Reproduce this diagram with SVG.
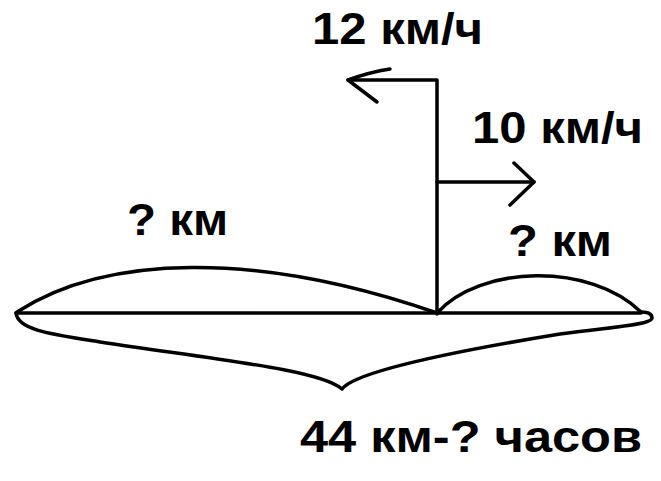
<svg xmlns="http://www.w3.org/2000/svg" width="661" height="481" viewBox="0 0 661 481">
  <style>
    .ln { fill: none; stroke: #000; stroke-width: 3.5; stroke-linecap: round; stroke-linejoin: round; }
    .lbl { font-family: "Liberation Sans", Arial, sans-serif; font-weight: bold; font-size: 44px; fill: #000; }
  </style>
  <rect width="661" height="481" fill="#fff"/>
  <g id="road">
    <line class="ln" x1="16" y1="313" x2="641" y2="313"/>
  </g>
  <g id="arc-left">
    <path class="ln" d="M17,312 C105,255 255,250 437,313"/>
  </g>
  <g id="arc-right">
    <path class="ln" d="M437,313 C480,265 590,262 641,312"/>
  </g>
  <g id="brace">
    <path class="ln" d="M16,313 C18,330 50,334 100,342 C220,360 320,370 342,389 C355,372 450,352 560,334 C610,327 652,325 652,318 C652,313 646,312 641,312"/>
  </g>
  <g id="connectors">
    <path class="ln" d="M437,314 L437,80 L348,80"/>
    <path class="ln" d="M390,69 Q370,72 348,80 L377,102"/>
    <path class="ln" d="M437,182 L534,182"/>
    <path class="ln" d="M514,163 L534,182 L510,205"/>
  </g>
  <g id="label-12">
    <text class="lbl" x="312" y="44" textLength="171" lengthAdjust="spacingAndGlyphs">12 км/ч</text>
  </g>
  <g id="label-10">
    <text class="lbl" x="472" y="143" textLength="171" lengthAdjust="spacingAndGlyphs">10 км/ч</text>
  </g>
  <g id="label-left-km">
    <text class="lbl" x="127" y="235" textLength="101" lengthAdjust="spacingAndGlyphs">? км</text>
  </g>
  <g id="label-right-km">
    <text class="lbl" x="508" y="256" textLength="104" lengthAdjust="spacingAndGlyphs">? км</text>
  </g>
  <g id="label-total">
    <text class="lbl" x="300" y="452" textLength="342" lengthAdjust="spacingAndGlyphs">44 км-? часов</text>
  </g>
</svg>
